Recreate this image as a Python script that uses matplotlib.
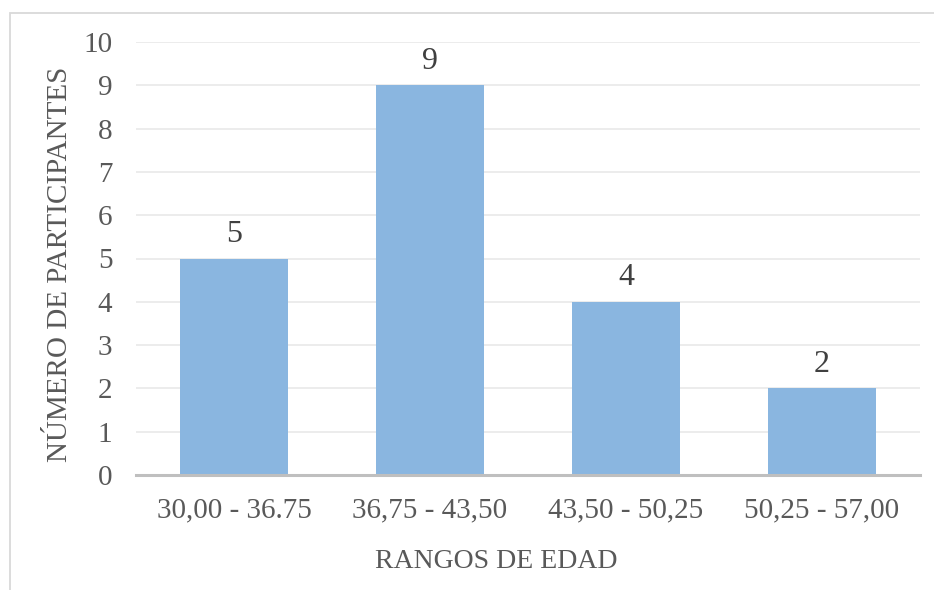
import matplotlib
matplotlib.use("Agg")
import matplotlib.pyplot as plt
from matplotlib.patches import Rectangle

categories = ["30,00 - 36.75", "36,75 - 43,50", "43,50 - 50,25", "50,25 - 57,00"]
participants = [5, 9, 4, 2]
y_ticks = list(range(0, 11))

TEXT = "#595959"
VALUE_TEXT = "#404040"
BAR = "#8AB6E0"
GRID = "#E9E9E9"
AXIS = "#BFBFBF"

plt.rcParams["font.family"] = ["Liberation Serif", "DejaVu Serif"]

W, H = 934, 590
fig = plt.figure(figsize=(W / 100, H / 100), dpi=100)
fig.patch.set_facecolor("white")

# chart border (top and left edges visible)
fig.patches.append(Rectangle((10 / W, -0.1), 1.2, 1.1 - 13 / H,
                             transform=fig.transFigure, fill=False,
                             edgecolor="#D9D9D9", linewidth=1.3, zorder=0))

ax = fig.add_axes([136 / W, (H - 475) / H, (920 - 136) / W, (475 - 42) / H])
x = range(len(categories))
bars = ax.bar(x, participants, width=0.55, color=BAR, zorder=3)

ax.set_xlim(-0.5, len(categories) - 0.5)
ax.set_ylim(0, 10)
ax.set_yticks(y_ticks)
ax.set_xticks(list(x))
ax.set_xticklabels(categories)

ax.yaxis.grid(True, color=GRID, linewidth=1.2, zorder=0)
ax.set_axisbelow(True)
for side in ("top", "right", "left"):
    ax.spines[side].set_visible(False)
ax.spines["bottom"].set_color(AXIS)
ax.spines["bottom"].set_linewidth(2.2)
ax.spines["bottom"].set_zorder(4)

ax.tick_params(axis="both", length=0, labelsize=21, labelcolor=TEXT)
ax.tick_params(axis="y", pad=17)
ax.tick_params(axis="x", pad=16)

for rect, v in zip(bars, participants):
    ax.annotate(str(v), (rect.get_x() + rect.get_width() / 2, v),
                xytext=(0, 7), textcoords="offset points",
                ha="center", va="bottom", fontsize=23, color=VALUE_TEXT)

fig.text(60 / W, 1 - 264 / H, "NÚMERO DE PARTICIPANTES", rotation=90,
         ha="center", va="center", fontsize=21, color=TEXT)
fig.text(496 / W, 1 - 561 / H, "RANGOS DE EDAD",
         ha="center", va="center", fontsize=20, color=TEXT)

fig.savefig("out.png", dpi=100, facecolor="white")
